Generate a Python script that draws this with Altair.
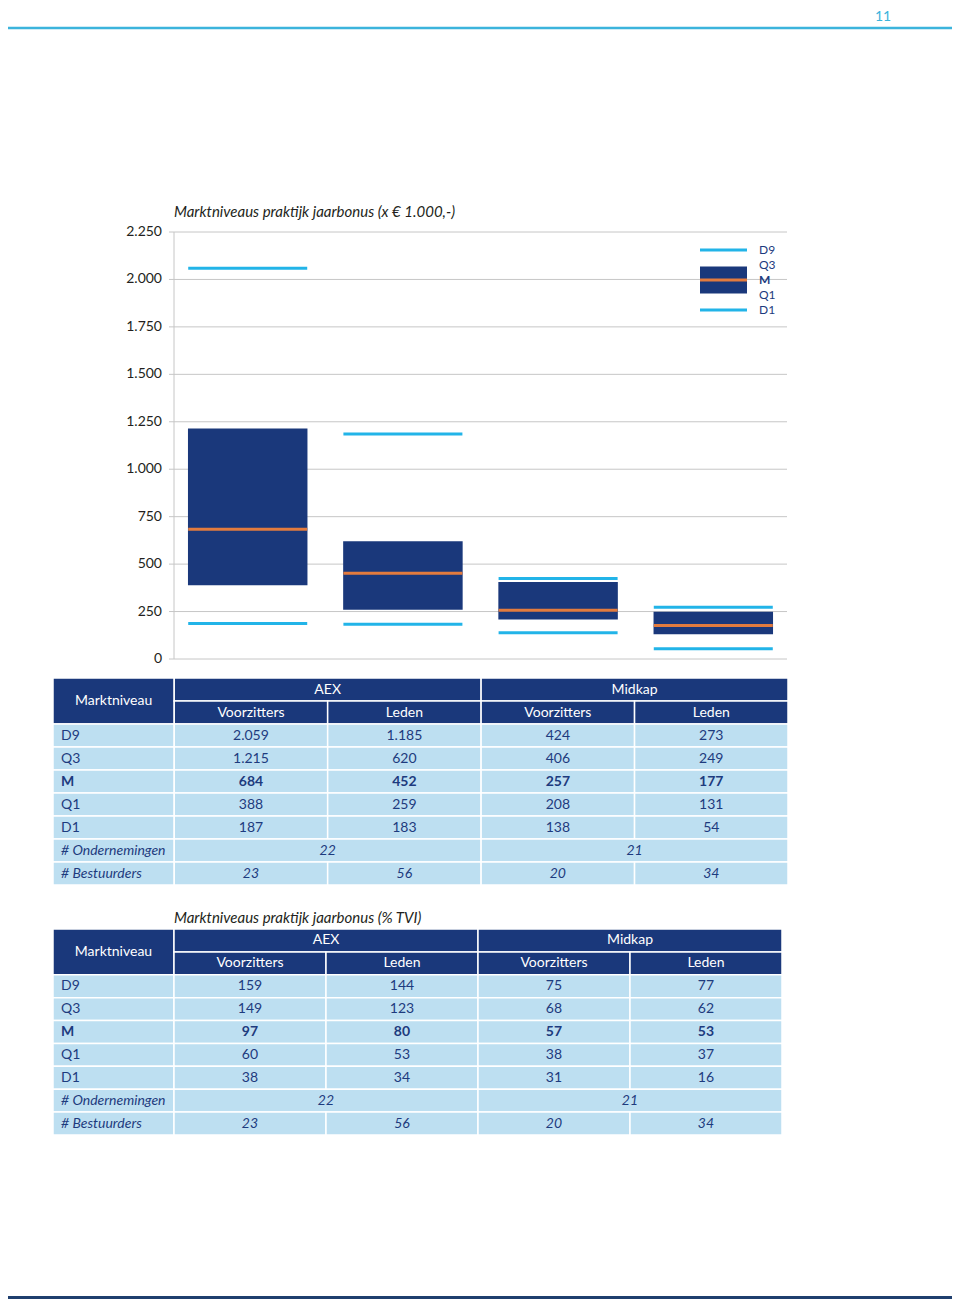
import altair as alt
import pandas as pd

# ---------------- data ----------------
groups = ["AEX Voorzitters", "AEX Leden", "Midkap Voorzitters", "Midkap Leden"]
markets = ["AEX", "Midkap"]
roles = ["Voorzitters", "Leden", "Voorzitters", "Leden"]
levels = ["D9", "Q3", "M", "Q1", "D1"]

# jaarbonus x EUR 1.000
d9_eur = [2059, 1185, 424, 273]
q3_eur = [1215, 620, 406, 249]
m_eur = [684, 452, 257, 177]
q1_eur = [388, 259, 208, 131]
d1_eur = [187, 183, 138, 54]

# jaarbonus % TVI
d9_tvi = [159, 144, 75, 77]
q3_tvi = [149, 123, 68, 62]
m_tvi = [97, 80, 57, 53]
q1_tvi = [60, 53, 38, 37]
d1_tvi = [38, 34, 31, 16]

n_ondernemingen = [22, 21]
n_bestuurders = [23, 56, 20, 34]

y_ticks = [0, 250, 500, 750, 1000, 1250, 1500, 1750, 2000, 2250]

title_eur = "Marktniveaus praktijk jaarbonus (x € 1.000,-)"
title_tvi = "Marktniveaus praktijk jaarbonus (% TVI)"
header_label = "Marktniveau"
extra_rows = ["# Ondernemingen", "# Bestuurders"]
page_number = "11"

# ---------------- styles ----------------
FONT = "Lato"
NAVY = "#1a387b"
ORANGE = "#e37b3e"
CYAN = "#22b4e8"
LIGHT = "#bddff1"
GRID = "#c6c6c6"
TEXT_DARK = "#231f20"
TEXT_NAVY = "#1d3b7e"
PAGE_CYAN = "#3cb4dc"


def nl(v):
    return f"{v:,}".replace(",", ".")


one = pd.DataFrame({"k": [0]})

# ---------------- page decoration ----------------
page_num = alt.Chart(pd.DataFrame({"t": [page_number]})).mark_text(
    font=FONT, fontSize=14, color=PAGE_CYAN, align="center", baseline="top"
).encode(x=alt.value(875), y=alt.value(2), text="t:N")
top_line = alt.Chart(one).mark_rule(color=PAGE_CYAN, strokeWidth=2.5).encode(
    x=alt.value(0), x2=alt.value(944), y=alt.value(20))
bottom_line = alt.Chart(one).mark_rule(color="#1f3f6e", strokeWidth=3).encode(
    x=alt.value(0), x2=alt.value(944), y=alt.value(1289.5))
titles = alt.Chart(pd.DataFrame({"t": [title_eur, title_tvi], "i": [0, 1]})).mark_text(
    font=FONT, fontSize=15, fontStyle="italic", color=TEXT_DARK, align="left", baseline="middle"
).encode(
    x=alt.value(166),
    y=alt.Y("i:O", scale=alt.Scale(type="point", domain=[0, 1], range=[204, 910], padding=0), axis=None),
    text="t:N",
)
page_layer = alt.layer(page_num, top_line, bottom_line, titles)

# ---------------- box chart ----------------
box_df = pd.DataFrame({"group": groups, "d9": d9_eur, "q3": q3_eur, "m": m_eur,
                       "q1": q1_eur, "d1": d1_eur})
tick_df = pd.DataFrame({"value": y_ticks, "label": [nl(v) for v in y_ticks]})
dom_df = pd.DataFrame({"lo": [y_ticks[0]], "hi": [y_ticks[-1]]})

xs = alt.Scale(type="band", domain=groups, range=[166, 779], paddingInner=0.23, paddingOuter=0.09)
ys = alt.Scale(type="linear", domain=[y_ticks[0], y_ticks[-1]], range=[651, 224], nice=False, zero=False)


def bx():
    return alt.X("group:N", scale=xs, axis=None)


def by(f):
    return alt.Y(f"{f}:Q", scale=ys, axis=None)


grid = alt.Chart(tick_df).mark_rule(color=GRID, strokeWidth=1).encode(
    y=by("value"), x=alt.value(161), x2=alt.value(779))
dom = alt.Chart(dom_df).mark_rule(color=GRID, strokeWidth=1).encode(
    y=by("lo"), y2="hi:Q", x=alt.value(166))
ylabels = alt.Chart(tick_df).mark_text(
    font=FONT, fontSize=14, color=TEXT_DARK, align="right", baseline="middle"
).encode(y=by("value"), x=alt.value(154), text="label:N")
boxes = alt.Chart(box_df).mark_bar(color=NAVY).encode(x=bx(), y=by("q1"), y2="q3:Q")
med = alt.Chart(box_df).mark_tick(orient="horizontal", color=ORANGE, thickness=3, size=119, opacity=1).encode(
    x=bx(), y=by("m"))
hi_t = alt.Chart(box_df).mark_tick(orient="horizontal", color=CYAN, thickness=3, size=119, opacity=1).encode(
    x=bx(), y=by("d9"))
lo_t = alt.Chart(box_df).mark_tick(orient="horizontal", color=CYAN, thickness=3, size=119, opacity=1).encode(
    x=bx(), y=by("d1"))
box_layer = alt.layer(grid, dom, ylabels, boxes, med, hi_t, lo_t)

# ---------------- legend ----------------
leg_df = pd.DataFrame({"item": levels})
ly = alt.Scale(type="point", domain=levels, range=[242, 302], padding=0)
LY = alt.Y("item:N", scale=ly, axis=None)
leg_base = alt.Chart(leg_df)
leg_rect = leg_base.transform_filter(alt.datum.item == "M").mark_rule(color=NAVY, strokeWidth=27).encode(
    x=alt.value(692), x2=alt.value(739), y=LY)
leg_med = leg_base.transform_filter(alt.datum.item == "M").mark_rule(color=ORANGE, strokeWidth=3).encode(
    x=alt.value(692), x2=alt.value(739), y=LY)
leg_dec = leg_base.transform_filter("datum.item == 'D9' || datum.item == 'D1'").mark_rule(
    color=CYAN, strokeWidth=3).encode(x=alt.value(692), x2=alt.value(739), y=LY)
leg_txt = leg_base.transform_filter(alt.datum.item != "M").mark_text(
    font=FONT, fontSize=12, color=TEXT_NAVY, align="left", baseline="middle"
).encode(x=alt.value(751), y=LY, text="item:N")
leg_txt_b = leg_base.transform_filter(alt.datum.item == "M").mark_text(
    font=FONT, fontSize=12, fontWeight="bold", color=TEXT_NAVY, align="left", baseline="middle"
).encode(x=alt.value(751), y=LY, text="item:N")
legend_layer = alt.layer(leg_rect, leg_med, leg_dec, leg_txt, leg_txt_b)


# ---------------- tables ----------------
def table_chart(stats, top, bottom, left, right, lw):
    cells = []

    def add(x0, x1, y0, y1, kind, text, style, align):
        cells.append(dict(x0=x0, x1=x1, y0=y0, y1=y1, kind=kind, text=text, style=style, align=align))

    add(-lw, 0, 0, 2, "head", header_label, "normal", "center")
    for mi, mk in enumerate(markets):
        add(2 * mi, 2 * mi + 2, 0, 1, "head", mk, "normal", "center")
    for ci, role in enumerate(roles):
        add(ci, ci + 1, 1, 2, "head", role, "normal", "center")
    for ri, (lvl, vals) in enumerate(zip(levels, stats)):
        r = 2 + ri
        st = "bold" if lvl == "M" else "normal"
        add(-lw, 0, r, r + 1, "body", lvl, st, "left")
        for ci, v in enumerate(vals):
            add(ci, ci + 1, r, r + 1, "body", nl(v), st, "center")
    r = 2 + len(levels)
    add(-lw, 0, r, r + 1, "body", extra_rows[0], "italic", "left")
    for mi, n in enumerate(n_ondernemingen):
        add(2 * mi, 2 * mi + 2, r, r + 1, "body", str(n), "italic", "center")
    r += 1
    add(-lw, 0, r, r + 1, "body", extra_rows[1], "italic", "left")
    for ci, n in enumerate(n_bestuurders):
        add(ci, ci + 1, r, r + 1, "body", str(n), "italic", "center")

    df = pd.DataFrame(cells)
    df["xc"] = (df["x0"] + df["x1"]) / 2
    df["yc"] = (df["y0"] + df["y1"]) / 2
    nrows = r + 1

    xsc = alt.Scale(type="linear", domain=[-lw, 4], range=[left, right], nice=False, zero=False)
    ysc = alt.Scale(type="linear", domain=[0, nrows], range=[top, bottom], nice=False, zero=False)
    base = alt.Chart(df)
    layers = []
    for kind, fill in [("head", NAVY), ("body", LIGHT)]:
        layers.append(
            base.transform_filter(alt.datum.kind == kind).mark_rect(
                fill=fill, stroke="white", strokeWidth=1.5
            ).encode(
                x=alt.X("x0:Q", scale=xsc, axis=None), x2="x1:Q",
                y=alt.Y("y0:Q", scale=ysc, axis=None), y2="y1:Q",
            )
        )
    for kind in ["head", "body"]:
        for style in ["normal", "bold", "italic"]:
            for align in ["left", "center"]:
                props = dict(font=FONT, fontSize=14, baseline="middle", align=align,
                             color="white" if kind == "head" else TEXT_NAVY)
                if style == "bold":
                    props["fontWeight"] = "bold"
                if style == "italic":
                    props["fontStyle"] = "italic"
                if align == "left":
                    props["dx"] = 8
                xf = "x0:Q" if align == "left" else "xc:Q"
                layers.append(
                    base.transform_filter(
                        f"datum.kind == '{kind}' && datum.style == '{style}' && datum.align == '{align}'"
                    ).mark_text(**props).encode(
                        x=alt.X(xf, scale=xsc, axis=None),
                        y=alt.Y("yc:Q", scale=ysc, axis=None),
                        text="text:N",
                    )
                )
    return alt.layer(*layers)


stats_eur = [d9_eur, q3_eur, m_eur, q1_eur, d1_eur]
stats_tvi = [d9_tvi, q3_tvi, m_tvi, q1_tvi, d1_tvi]
table1 = table_chart(stats_eur, 670, 877, 45, 780, 0.79)
table2 = table_chart(stats_tvi, 921, 1127, 45, 774, 0.796)

chart = alt.layer(page_layer, box_layer, legend_layer, table1, table2).resolve_scale(
    x="independent", y="independent"
).properties(
    width=944, height=1291, autosize=alt.AutoSizeParams(type="none"), padding=0
).configure_view(strokeWidth=0)

chart.save("out.html", embed_options={"renderer": "svg", "actions": False})
